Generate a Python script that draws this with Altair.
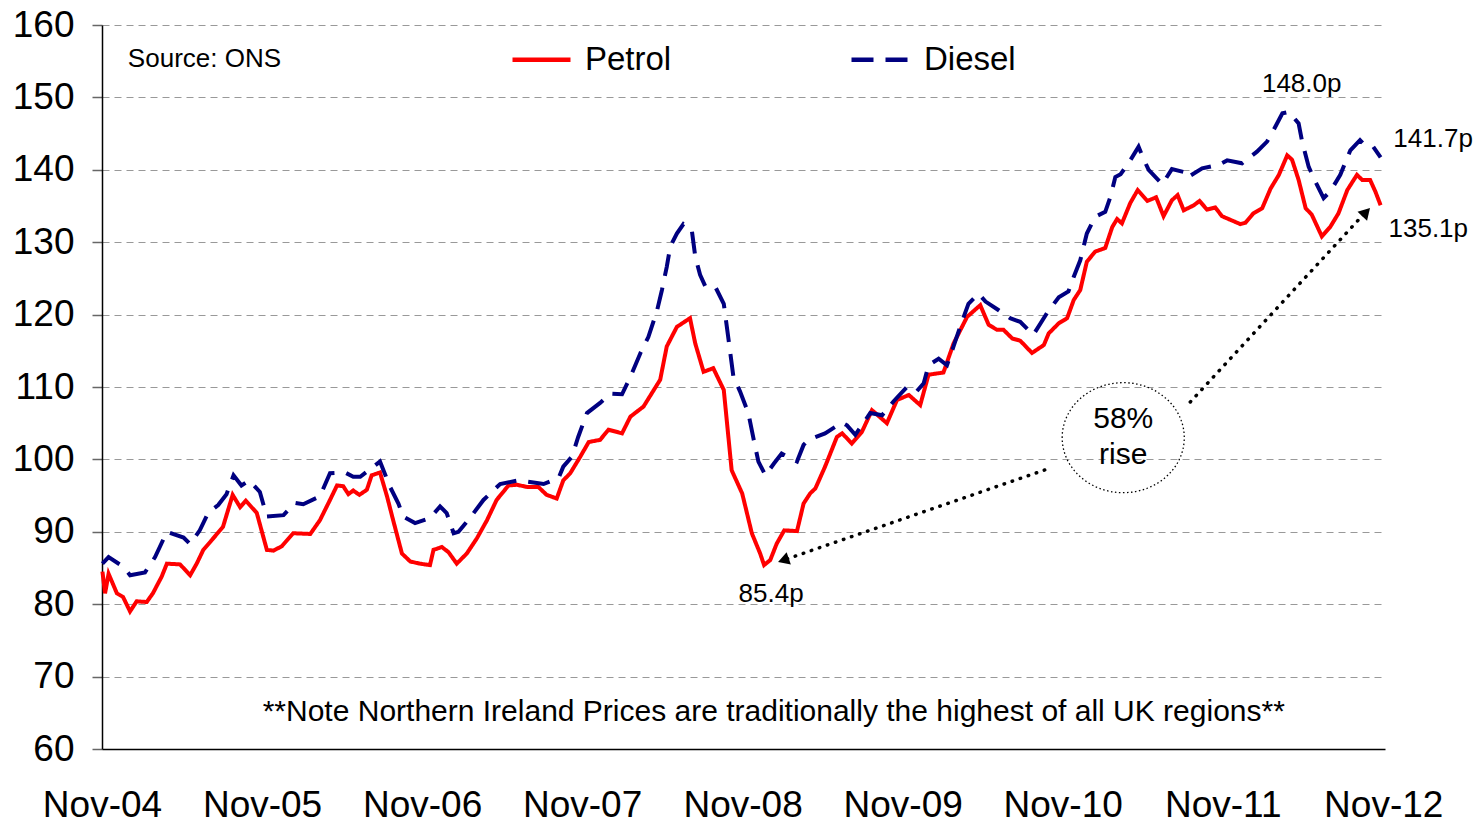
import altair as alt
import pandas as pd

FONT = "Liberation Sans"
START = pd.Timestamp("2004-11-01")

# ---- data: weeks since 1 Nov 2004, price in pence per litre ----
petrol_week = [0.2,1.0,2.1,4.8,6.8,9.1,11.3,14.6,16.6,19.5,
               21.1,25.4,28.7,30.9,33.0,35.8,39.5,42.6,45.0,46.9,
               50.4,53.7,55.8,58.6,62.3,67.8,71.0,74.3,76.5,78.6,
               80.3,81.9,83.9,86.3,87.9,90.6,92.8,94.9,97.7,100.4,
               103.6,106.9,108.0,110.7,112.9,115.6,118.9,122.1,125.4,128.6,
               132.4,135.2,138.4,142.2,144.9,148.2,150.3,152.5,155.8,158.5,
               162.3,165.0,169.4,172.1,176.4,181.9,184.0,187.3,191.6,193.3,
               196.0,199.2,202.5,205.2,208.5,211.7,214.4,215.7,217.7,219.9,
               222.3,226.4,228.6,230.7,232.4,235.6,239.4,241.1,244.3,247.6,
               250.8,255.7,259.0,262.8,266.6,269.3,274.2,277.4,281.8,286.1,
               288.8,291.6,293.7,296.5,299.2,303.0,306.8,308.4,311.7,314.4,
               316.6,318.7,320.9,323.6,326.9,329.1,330.7,332.3,335.0,337.5,
               340.5,343.5,345.9,348.6,350.4,352.4,355.7,357.6,360.0,362.7,
               364.9,367.6,370.9,372.5,375.2,378.0,380.7,383.4,386.1,387.7,
               389.9,392.1,394.2,397.5,400.2,402.9,405.7,408.9,410.5,413.2,
               414.9,416.5]
petrol_price = [84.5,81.5,84.2,81.5,81.0,79.0,80.4,80.3,81.5,83.8,
                85.6,85.5,84.0,85.6,87.5,88.9,90.7,95.1,93.4,94.3,
                92.6,87.5,87.4,88.0,89.8,89.7,91.6,94.4,96.4,96.3,
                95.2,95.7,95.1,95.8,97.8,98.2,94.9,91.6,87.0,85.9,
                85.6,85.4,87.5,87.9,87.2,85.6,87.0,89.1,91.6,94.4,
                96.4,96.5,96.2,96.2,95.1,94.6,97.1,98.1,100.4,102.4,
                102.7,104.1,103.6,105.9,107.3,111.0,115.6,118.3,119.5,116.0,
                112.1,112.6,109.6,98.5,95.3,89.8,87.0,85.4,86.1,88.4,
                90.2,90.1,93.9,95.3,96.0,99.0,103.1,103.6,102.2,103.8,
                106.8,105.0,108.2,108.9,107.5,111.7,112.0,116.0,119.7,121.3,
                118.6,117.9,117.9,116.7,116.4,114.7,115.8,117.4,118.8,119.5,
                122.0,123.4,127.3,128.7,129.2,132.1,133.2,132.6,135.4,137.2,
                135.7,136.2,133.6,135.8,136.5,134.4,135.1,135.7,134.5,134.8,
                133.6,133.1,132.5,132.7,134.0,134.7,137.4,139.3,142.0,141.4,
                138.6,134.7,133.8,130.8,132.1,134.0,137.2,139.3,138.6,138.6,
                137.0,135.1]

diesel_week = [0.2,2.1,6.9,9.1,14.0,17.3,21.1,26.5,28.7,31.9,
               34.6,37.9,40.6,42.8,45.5,48.0,51.5,53.7,59.1,62.9,
               65.6,71.0,74.3,79.2,81.9,84.1,86.3,90.6,93.9,96.6,
               98.2,102.0,106.9,110.2,112.3,114.5,116.1,119.9,124.3,129.7,
               135.7,140.6,143.8,148.7,150.3,153.1,155.2,158.0,162.3,165.6,
               169.4,172.1,175.4,178.0,180.8,182.4,184.0,185.1,187.3,189.4,
               192.2,193.3,194.9,196.5,199.8,202.5,204.1,205.7,207.9,210.6,
               212.2,213.9,216.1,218.8,221.5,226.4,228.6,230.2,235.6,241.1,
               242.7,245.4,250.3,254.1,257.9,262.3,265.5,267.7,269.3,272.6,
               275.3,277.4,280.2,282.3,285.6,287.8,292.1,295.9,299.2,303.5,
               307.9,311.7,314.9,316.6,318.7,320.9,323.6,326.9,328.5,330.1,
               331.8,334.5,337.7,339.4,341.0,345.4,348.6,352.4,353.5,358.4,
               363.8,366.5,371.4,376.3,379.6,381.7,384.5,386.7,389.9,391.0,
               393.2,395.9,398.0,400.2,403.4,406.7,409.9,411.5,414.2,416.5]
diesel_price = [85.6,86.5,85.2,84.0,84.4,86.5,90.0,89.2,88.3,90.2,
                92.6,93.7,95.2,97.8,96.4,97.1,95.5,92.1,92.3,94.0,
                93.8,94.9,98.1,98.2,97.6,97.6,98.3,99.7,96.2,93.9,
                92.1,91.2,91.9,93.5,92.6,89.8,90.0,91.9,94.4,96.6,
                97.1,96.8,96.6,97.4,99.0,100.4,103.1,106.4,107.8,109.1,
                109.0,111.4,114.7,116.9,120.6,123.4,126.6,129.4,131.2,132.5,
                131.7,128.0,125.5,123.9,123.8,121.5,116.5,111.4,109.4,106.4,
                103.1,99.7,97.8,99.4,100.8,99.7,102.0,102.7,103.6,105.1,
                104.7,103.4,106.4,106.1,108.0,110.0,109.4,110.5,113.0,113.9,
                113.0,115.6,119.0,121.5,122.9,121.8,120.6,119.5,119.0,117.2,
                120.2,122.4,123.2,125.2,127.5,131.2,133.5,134.2,136.3,139.0,
                139.4,141.0,143.2,141.4,140.0,138.0,140.1,139.7,138.9,140.2,
                140.7,141.3,140.9,142.5,143.9,145.5,147.8,148.0,146.4,143.9,
                140.4,137.9,136.1,137.0,139.3,142.7,144.1,143.4,143.2,141.7]

series_names = ["Petrol", "Diesel"]
series_colors = ["#FF0000", "#000080"]
tick_years = [2004, 2005, 2006, 2007, 2008, 2009, 2010, 2011, 2012]
y_ticks = [60, 70, 80, 90, 100, 110, 120, 130, 140, 150, 160]

# value labels
label_text = ["148.0p", "141.7p", "135.1p", "85.4p"]
label_week = [390.8, 420.7, 419.1, 218.0]
label_value = [151.9, 144.25, 131.8, 81.4]


def to_date(weeks):
    return [(START + pd.Timedelta(days=round(w * 7))).strftime("%Y-%m-%d") for w in weeks]


df = pd.DataFrame({
    "series": ["Petrol"] * len(petrol_week) + ["Diesel"] * len(diesel_week),
    "date": to_date(petrol_week) + to_date(diesel_week),
    "price": petrol_price + diesel_price,
})

x_scale = alt.Scale(type="utc", domain=[alt.DateTime(year=2004, month=11, date=1, utc=True),
                                        alt.DateTime(year=2012, month=11, date=5, utc=True)])
y_scale = alt.Scale(domain=[60, 160], nice=False, zero=False)

x_axis = alt.Axis(values=[alt.DateTime(year=y, month=11, date=1, utc=True) for y in tick_years],
                  labelExpr="utcFormat(datum.value, '%b-%y')",
                  labelFont=FONT, labelFontSize=37,
                  labelColor="black", ticks=False, grid=False, domainColor="black",
                  domainWidth=1.5, labelPadding=38, labelFlush=False, labelOverlap=False, title=None)
y_axis = alt.Axis(values=y_ticks, labelFont=FONT, labelFontSize=37, labelColor="black",
                  labelPadding=18, tickSize=10, tickColor="#666666", tickWidth=1.5,
                  domainColor="black", domainWidth=1.5, grid=True, gridColor="#999999",
                  gridDash=[7, 5], gridWidth=1.2, title=None)

legend = alt.Legend(orient="none", legendX=408, legendY=3, direction="horizontal", title=None,
                    symbolType="stroke", symbolSize=3364, symbolStrokeWidth=4.5,
                    labelFont=FONT, labelFontSize=33, labelColor="black",
                    columnPadding=170, labelOffset=12)

X = lambda f: alt.X(f, type="temporal", scale=x_scale, axis=x_axis, title=None)
Y = lambda f: alt.Y(f, type="quantitative", scale=y_scale, axis=y_axis, title=None)

lines = alt.Chart(df).mark_line(strokeWidth=4).encode(
    x=X("date"),
    y=Y("price"),
    color=alt.Color("series:N", scale=alt.Scale(domain=series_names, range=series_colors), legend=legend),
    strokeDash=alt.StrokeDash("series:N", scale=alt.Scale(domain=series_names, range=[[1, 0], [22, 12]]),
                              legend=legend),
)

lab_df = pd.DataFrame({"date": to_date(label_week), "price": label_value, "text": label_text,
                       "align": ["center", "left", "left", "center"]})
labels_c = alt.Chart(lab_df[lab_df["align"] == "center"]).mark_text(
    font=FONT, fontSize=26, color="black", align="center", baseline="middle").encode(
    x=X("date"), y=Y("price"), text="text:N")
labels_l = alt.Chart(lab_df[lab_df["align"] == "left"]).mark_text(
    font=FONT, fontSize=26, color="black", align="left", baseline="middle").encode(
    x=X("date"), y=Y("price"), text="text:N")

src_df = pd.DataFrame({"date": to_date([8.47]), "price": [155.3], "text": ["Source: ONS"]})
source = alt.Chart(src_df).mark_text(font=FONT, fontSize=26, color="black", align="left",
                                     baseline="middle").encode(x=X("date"), y=Y("price"), text="text:N")

note_df = pd.DataFrame({"date": to_date([218.9]), "price": [65.1],
                        "text": ["**Note Northern Ireland Prices are traditionally the highest of all UK regions**"]})
note = alt.Chart(note_df).mark_text(font=FONT, fontSize=30, color="black", align="center",
                                    baseline="middle").encode(x=X("date"), y=Y("price"), text="text:N")

rise_df = pd.DataFrame({"date": to_date([332.7, 332.7]), "price": [105.6, 100.6], "text": ["58%", "rise"]})
rise = alt.Chart(rise_df).mark_text(font=FONT, fontSize=30, color="black", align="center",
                                    baseline="middle").encode(x=X("date"), y=Y("price"), text="text:N")

ell_df = pd.DataFrame({"date": to_date([332.7]), "price": [103.0]})
ellipse = alt.Chart(ell_df).mark_point(
    shape="M -1.11,0 A 1.11,1 0 1,1 1.11,0 A 1.11,1 0 1,1 -1.11,0 Z",
    size=12100, filled=False, stroke="black", strokeWidth=1.3, strokeDash=[1.5, 2.5], opacity=1).encode(
    x=X("date"), y=Y("price"))

arr_df = pd.DataFrame({"date": to_date([307.2, 354.5]), "date2": to_date([222.2, 411.2]),
                       "price": [98.54, 107.93], "price2": [86.1, 133.9]})
arrows = alt.Chart(arr_df).mark_rule(strokeWidth=3.5, strokeDash=[0.5, 8], strokeCap="round",
                                     color="black").encode(
    x=X("date"), x2="date2", y=Y("price"), y2="price2")

head_df = pd.DataFrame({"date": to_date([221.97, 411.9]), "price": [86.08, 134.16], "angle": [251, 43]})
heads = alt.Chart(head_df).mark_point(shape="triangle-up", size=170, filled=True, color="black",
                                      opacity=1).encode(
    x=X("date"), y=Y("price"), angle=alt.Angle("angle:Q", scale=None))

chart = alt.layer(lines, arrows, heads, ellipse, rise, labels_c, labels_l, source, note).properties(
    width=1283, height=724,
    autosize=alt.AutoSizeParams(type="none"),
    padding={"left": 94, "top": 17, "right": 88, "bottom": 78},
    background="white",
).configure_view(strokeWidth=0)

chart.save("out.html", embed_options={"renderer": "svg", "actions": False})
